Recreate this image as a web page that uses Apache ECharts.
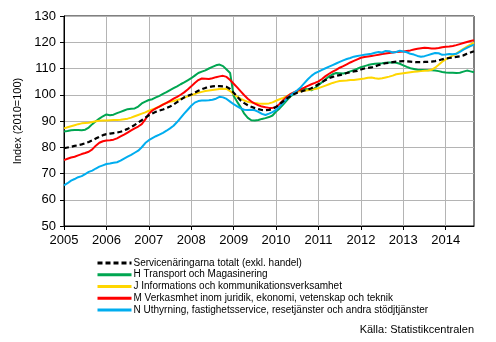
<!DOCTYPE html>
<html>
<head>
<meta charset="utf-8">
<script src="https://cdn.jsdelivr.net/npm/echarts@6/dist/echarts.min.js"></script>
<style>
  html, body { margin: 0; padding: 0; background: #ffffff; }
  #chart { width: 496px; height: 342px; }
</style>
</head>
<body>
<div id="chart"></div>
<script>
// Monthly trend index, services, 2010=100 (Jan 2005 - Sep 2014)
const startYear = 2005;
const monthCount = 117;

const seriesNames = [
  'Servicenäringarna totalt (exkl. handel)',
  'H Transport och Magasinering',
  'J Informations och kommunikationsverksamhet',
  'M Verkasmhet inom juridik, ekonomi, vetenskap och teknik',
  'N Uthyrning, fastighetsservice, resetjänster och andra stödjtjänster'
];

const totalServices = [
  79.6, 79.9, 80.2, 80.5, 80.8, 81.1, 81.5, 82.0, 82.6, 83.3, 84.0, 84.6,
  85.0, 85.2, 85.4, 85.6, 85.9, 86.4, 87.0, 87.7, 88.5, 89.4, 90.3, 91.3,
  92.2, 92.9, 93.5, 94.0, 94.4, 94.9, 95.5, 96.3, 97.2, 98.1, 99.0, 99.6,
  100.1, 100.8, 101.5, 102.1, 102.6, 102.9, 103.2, 103.3, 103.3, 103.2, 103.0, 102.2,
  100.8, 99.3, 97.8, 96.8, 96.0, 95.4, 94.9, 94.5, 94.2, 94.1, 94.2, 94.6,
  95.4, 96.4, 97.5, 98.5, 99.4, 100.2, 100.8, 101.2, 101.6, 101.9, 102.5, 103.2,
  104.0, 104.8, 105.6, 106.3, 106.8, 107.2, 107.5, 107.8, 108.3, 108.6, 108.9, 109.1,
  109.6, 110.0, 110.2, 110.4, 110.8, 111.3, 111.7, 112.0, 112.2, 112.4, 112.6, 112.7,
  112.8, 112.7, 112.6, 112.5, 112.4, 112.4, 112.5, 112.5, 112.6, 112.8, 113.1, 113.5,
  113.8, 114.0, 114.2, 114.4, 114.6, 115.0, 115.6, 116.1, 116.6
];

const transport = [
  86.0, 86.2, 86.5, 86.6, 86.6, 86.5, 86.7, 87.5, 88.8, 89.9, 90.9, 91.8,
  92.5, 92.2, 92.4, 93.0, 93.5, 94.0, 94.5, 94.7, 94.8, 95.5, 96.7, 97.4,
  98.0, 98.3, 99.0, 99.6, 100.3, 101.0, 101.8, 102.5, 103.2, 104.0, 104.7, 105.5,
  106.3, 107.3, 108.3, 108.8, 109.3, 110.0, 110.6, 111.2, 111.5, 110.9, 109.6, 108.3,
  99.5, 97.3, 95.2, 92.8, 91.2, 90.3, 90.2, 90.4, 90.8, 91.1, 91.5, 92.1,
  93.6, 94.8, 96.3, 97.8, 99.2, 100.3, 101.2, 101.8, 102.2, 102.1, 101.7, 102.5,
  103.7, 104.8, 105.9, 107.0, 107.8, 108.3, 108.2, 108.1, 108.4, 108.9, 109.4, 109.9,
  110.5, 110.9, 111.3, 111.6, 111.8, 111.9, 112.0, 112.2, 112.3, 112.3, 112.2, 111.8,
  111.2, 110.6, 110.1, 109.8, 109.5, 109.4, 109.4, 109.3, 109.3, 109.2, 109.0, 108.7,
  108.5, 108.4, 108.4, 108.3, 108.4, 108.8, 109.2, 108.9, 108.6
];

const information = [
  87.2, 87.6, 88.0, 88.4, 88.8, 89.1, 89.2, 89.3, 89.6, 89.9, 90.1, 90.2,
  90.2, 90.3, 90.4, 90.4, 90.5, 90.7, 90.9, 91.3, 91.8, 92.3, 92.8, 93.3,
  93.9, 94.4, 94.9, 95.6, 96.3, 96.9, 97.3, 97.6, 98.0, 98.4, 98.9, 99.4,
  99.8, 100.3, 100.8, 101.1, 101.4, 101.6, 101.8, 102.0, 102.2, 102.3, 102.2, 101.4,
  100.3, 99.3, 98.4, 97.8, 97.3, 97.0, 96.9, 96.7, 96.6, 96.6, 96.7, 97.1,
  97.7, 98.3, 98.8, 99.4, 100.1, 100.7, 101.2, 101.3, 101.5, 101.7, 102.0, 102.2,
  102.5, 103.0, 103.5, 104.0, 104.5, 104.9, 105.2, 105.3, 105.4, 105.6, 105.6, 105.8,
  106.0, 106.2, 106.5, 106.6, 106.3, 106.1, 106.3, 106.6, 106.9, 107.3, 107.8, 108.0,
  108.2, 108.4, 108.6, 108.8, 108.9, 109.0, 109.1, 109.2, 109.5, 110.3, 111.4, 112.6,
  113.5, 114.2, 114.9, 115.7, 116.6, 117.5, 118.3, 119.1, 119.9
];

const professional = [
  75.1, 75.6, 76.1, 76.4, 76.9, 77.4, 77.8, 78.3, 79.2, 80.6, 81.7, 82.3,
  82.6, 82.7, 82.9, 83.4, 84.1, 84.8, 85.6, 86.4, 87.2, 87.9, 88.8, 90.6,
  92.8, 94.0, 94.8, 95.5, 96.2, 96.9, 97.7, 98.5, 99.2, 100.0, 100.9, 102.0,
  103.2, 104.5, 105.6, 106.2, 106.1, 106.0, 106.3, 106.7, 107.0, 107.2, 106.8, 105.6,
  104.2, 102.8, 101.3, 99.8, 98.5, 97.4, 96.6, 96.0, 95.5, 95.2, 95.0, 95.0,
  95.3, 96.5, 97.9, 99.2, 100.2, 100.9, 101.5, 102.1, 102.7, 103.4, 104.0, 104.5,
  105.1, 106.0, 107.1, 108.0, 108.8, 109.5, 110.3, 110.9, 111.6, 112.3, 112.9, 113.5,
  114.1, 114.4, 114.6, 114.8, 115.0, 115.2, 115.5, 115.7, 115.9, 116.1, 116.3, 116.4,
  116.5, 116.7, 116.9, 117.2, 117.5, 117.7, 117.9, 117.8, 117.6, 117.6, 117.8, 118.1,
  118.3, 118.4, 118.6, 118.9, 119.3, 119.7, 120.1, 120.5, 120.8
];

const support = [
  65.5, 66.3, 67.3, 67.9, 68.6, 69.0, 69.8, 70.6, 71.1, 71.9, 72.6, 73.1,
  73.6, 73.8, 74.1, 74.3, 74.9, 75.7, 76.4, 77.1, 77.9, 78.7, 80.0, 81.6,
  82.7, 83.5, 84.2, 84.8, 85.5, 86.3, 87.2, 88.2, 89.6, 91.2, 92.8, 94.3,
  95.8, 97.0, 97.6, 97.8, 97.8, 97.9, 98.1, 98.5, 99.2, 99.0, 98.4, 97.4,
  96.4, 95.6, 94.8, 94.3, 94.2, 94.3, 94.1, 93.5, 92.7, 92.3, 92.8, 93.4,
  94.2, 95.5, 97.0, 98.5, 99.7, 100.7, 101.7, 102.9, 104.4, 105.9, 107.2, 108.2,
  108.8, 109.5, 110.1, 110.7, 111.3, 111.9, 112.5, 113.1, 113.6, 114.0, 114.5, 114.8,
  115.0, 115.2, 115.4, 115.6, 116.0, 116.3, 116.1, 116.7, 116.6, 116.1, 116.3, 116.8,
  116.5, 116.2, 115.6, 115.3, 114.8, 114.5, 114.7, 115.1, 115.5, 115.9, 115.8, 115.2,
  115.3, 115.5, 115.4, 115.6, 116.3, 117.2, 117.9, 118.5, 119.1
];

const yTicks = { min: 50, max: 130, interval: 10 };
const sourceText = 'Källa: Statistikcentralen';

// Category labels, one per month: "2005-01" ...
const months = [];
for (let i = 0; i < monthCount; i++) {
  const y = startYear + Math.floor(i / 12);
  const m = (i % 12) + 1;
  months.push(y + '-' + (m < 10 ? '0' + m : m));
}
const isJanuary = (index) => index % 12 === 0;

const FONT = '"Liberation Sans", Arial, Helvetica, sans-serif';

function lineSeries(name, data, color, extra) {
  return Object.assign({
    name: name,
    type: 'line',
    data: data,
    showSymbol: false,
    symbol: 'none',
    smooth: false,
    animation: false,
    lineStyle: { color: color, width: 2 },
    itemStyle: { color: color }
  }, extra || {});
}

const chart = echarts.init(document.getElementById('chart'), null, { renderer: 'canvas' });

chart.setOption({
  backgroundColor: '#ffffff',
  animation: false,
  textStyle: { fontFamily: FONT, color: '#000' },
  grid: {
    left: 64, top: 16, width: 410, height: 210,
    show: true, borderColor: '#000', borderWidth: 1, backgroundColor: 'transparent'
  },
  xAxis: {
    type: 'category',
    data: months,
    boundaryGap: false,
    axisLine: { show: true, lineStyle: { color: '#000', width: 1 } },
    axisTick: { show: true, interval: (i) => isJanuary(i), length: 4, lineStyle: { color: '#000' } },
    axisLabel: {
      interval: (i) => isJanuary(i),
      formatter: (v) => v.slice(0, 4),
      fontSize: 13, color: '#000', fontFamily: FONT, margin: 8
    },
    splitLine: { show: true, interval: (i) => isJanuary(i), lineStyle: { color: '#b4b4b4', width: 1 } }
  },
  yAxis: {
    type: 'value',
    min: yTicks.min, max: yTicks.max, interval: yTicks.interval,
    name: 'Index (2010=100)',
    nameLocation: 'middle',
    nameGap: 40,
    nameTextStyle: { fontSize: 11, color: '#000', fontFamily: FONT },
    axisLine: { show: true, lineStyle: { color: '#000', width: 1 } },
    axisTick: { show: true, length: 4, lineStyle: { color: '#000' } },
    axisLabel: { fontSize: 13, color: '#000', fontFamily: FONT, margin: 8 },
    splitLine: { show: true, lineStyle: { color: '#b4b4b4', width: 1 } }
  },
  legend: {
    orient: 'vertical',
    left: 96, top: 257,
    padding: 0,
    itemGap: 0,
    itemWidth: 34, itemHeight: 10,
    selectedMode: false,
    data: seriesNames,
    // keep only the line sample in each legend key
    itemStyle: { opacity: 0 },
    lineStyle: { width: 3 },
    textStyle: { fontSize: 10, color: '#000', fontFamily: FONT, lineHeight: 11.8, padding: [0, 0, 0, -3] }
  },
  series: [
    lineSeries(seriesNames[1], transport, '#00A651', { z: 2 }),
    lineSeries(seriesNames[2], information, '#FFD600', { z: 3 }),
    lineSeries(seriesNames[3], professional, '#FF0000', { z: 4 }),
    lineSeries(seriesNames[4], support, '#00ADEF', { z: 5 }),
    lineSeries(seriesNames[0], totalServices, '#000000', {
      z: 6,
      lineStyle: { color: '#000000', width: 2.2, type: [5, 3] }
    })
  ],
  graphic: [{
    type: 'text',
    right: 22, top: 324,
    style: { text: sourceText, fontSize: 11, fill: '#000', fontFamily: FONT }
  }]
});
</script>
</body>
</html>
